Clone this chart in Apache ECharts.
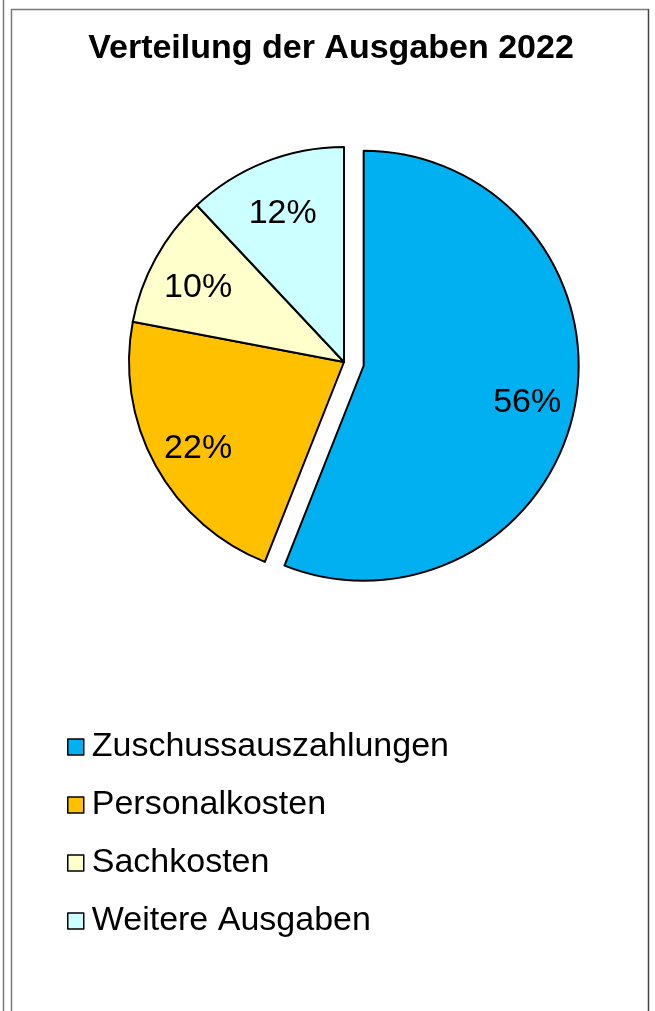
<!DOCTYPE html>
<html>
<head>
<meta charset="utf-8">
<style>
html, body { margin: 0; padding: 0; background: #fff; }
#chart { width: 655px; height: 1011px; }
</style>
<script src="https://cdn.jsdelivr.net/npm/echarts@6/dist/echarts.min.js"></script>
</head>
<body>
<div id="chart"></div>
<script>
// Ausgaben 2022, Anteile in Prozent
var categories = ['Zuschussauszahlungen', 'Personalkosten', 'Sachkosten', 'Weitere Ausgaben'];
var shares = [56, 22, 10, 12];
var colors = ['#00B0F0', '#FFC000', '#FFFFCC', '#CCFFFF'];

var chart = echarts.init(document.getElementById('chart'));

var pieData = categories.map(function (name, i) {
    return {
        name: name,
        value: shares[i],
        selected: i === 0,
        itemStyle: { color: colors[i] }
    };
});
var labelData = categories.map(function (name, i) {
    return { name: name, value: shares[i], selected: i === 0 };
});

var font = 'Liberation Sans, Arial, sans-serif';

var option = {
    backgroundColor: '#fff',
    animation: false,
    title: {
        text: 'Verteilung der Ausgaben 2022',
        left: 326,
        textAlign: 'center',
        top: 27,
        textStyle: { fontFamily: font, fontSize: 34, fontWeight: 'bold', color: '#000' }
    },
    legend: {
        orient: 'vertical',
        left: 67,
        top: 730,
        padding: 0,
        icon: 'rect',
        itemWidth: 16,
        itemHeight: 16,
        itemGap: 24,
        data: categories,
        selectedMode: false,
        itemStyle: { borderColor: '#000', borderWidth: 1.5 },
        textStyle: { fontFamily: font, fontSize: 34, color: '#000', padding: [0, 0, 0, 3] }
    },
    graphic: [
        { type: 'line', shape: { x1: 3.5, y1: 0, x2: 3.5, y2: 1011 }, style: { stroke: '#7a7a7a', lineWidth: 1.5 } },
        { type: 'line', shape: { x1: 11.5, y1: 9, x2: 11.5, y2: 1011 }, style: { stroke: '#7a7a7a', lineWidth: 1.5 } },
        { type: 'line', shape: { x1: 11, y1: 9.5, x2: 649, y2: 9.5 }, style: { stroke: '#7a7a7a', lineWidth: 1.5 } },
        { type: 'line', shape: { x1: 648.5, y1: 9, x2: 648.5, y2: 1011 }, style: { stroke: '#444', lineWidth: 1.5 } }
    ],
    series: [
        {
            type: 'pie',
            center: [344, 362],
            radius: [0, 215],
            startAngle: 90,
            clockwise: true,
            selectedMode: 'single',
            selectedOffset: 20,
            silent: true,
            label: { show: false },
            labelLine: { show: false },
            itemStyle: { borderColor: '#000', borderWidth: 2 },
            emphasis: { disabled: true },
            data: pieData
        },
        {
            type: 'pie',
            center: [344, 368],
            radius: [112, 215],
            startAngle: 90,
            clockwise: true,
            selectedMode: 'single',
            selectedOffset: 20,
            silent: true,
            legendHoverLink: false,
            itemStyle: { color: 'rgba(0,0,0,0)', borderWidth: 0 },
            label: {
                show: true,
                position: 'inside',
                formatter: '{c}%',
                fontFamily: font,
                fontSize: 34,
                color: '#000'
            },
            labelLine: { show: false },
            emphasis: { disabled: true },
            data: labelData
        }
    ]
};

chart.setOption(option);
</script>
</body>
</html>
